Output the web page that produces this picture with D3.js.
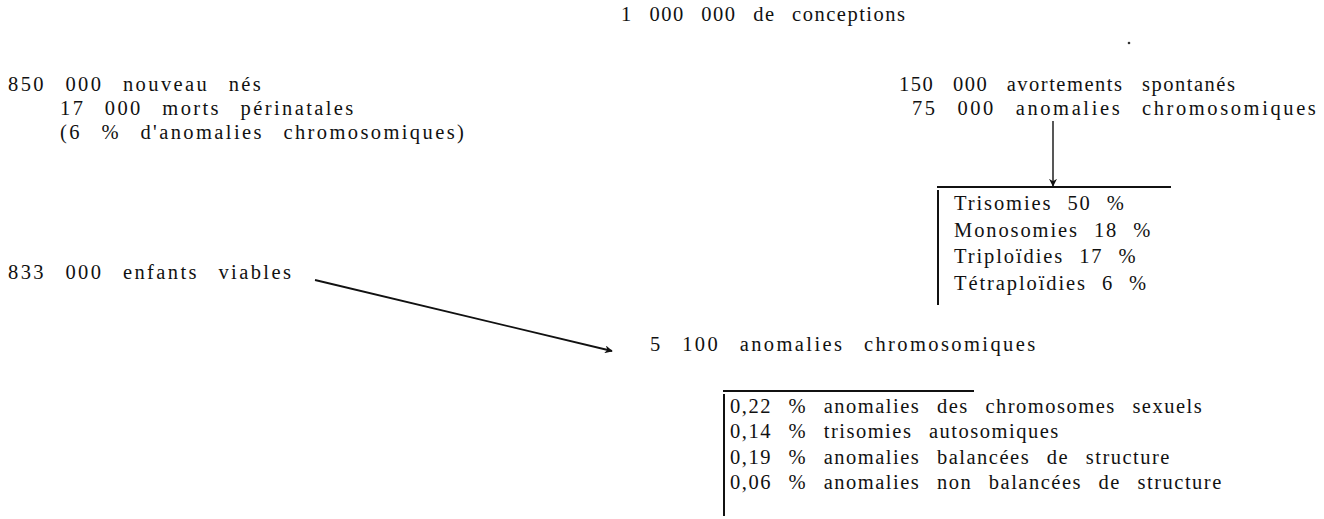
<!DOCTYPE html>
<html>
<head>
<meta charset="utf-8">
<script src="https://cdn.jsdelivr.net/npm/d3@7"></script>
<style>
  body { margin: 0; background: #fff; }
  text { font-family: "Liberation Serif", "DejaVu Serif", serif; font-size: 20.5px; fill: #111;
         letter-spacing: 2.4px; word-spacing: 12px; }
</style>
</head>
<body>
<script>
// data
var conceptions = "1 000 000 de conceptions";
var births = ["850 000 nouveau nés", "17 000 morts périnatales", "(6 % d'anomalies chromosomiques)"];
var abortions = ["150 000 avortements spontanés", "75 000 anomalies chromosomiques"];
var abortionTypes = ["Trisomies", "Monosomies", "Triploïdies", "Tétraploïdies"];
var abortionPct = [50, 18, 17, 6];
var viable = "833 000 enfants viables";
var liveAnomalies = "5 100 anomalies chromosomiques";
var livePct = ["0,22", "0,14", "0,19", "0,06"];
var liveTypes = ["anomalies des chromosomes sexuels", "trisomies autosomiques",
                 "anomalies balancées de structure", "anomalies non balancées de structure"];

var w = 1324, h = 519;
var lineH = 24;

var svg = d3.select("body").append("svg")
            .attr('width', w)
            .attr('height', h);

svg.append('defs').append('marker')
   .attr('id', 'arrow')
   .attr('viewBox', '0 0 10 10')
   .attr('refX', 9).attr('refY', 5)
   .attr('markerWidth', 8).attr('markerHeight', 8)
   .attr('markerUnits', 'userSpaceOnUse')
   .attr('orient', 'auto')
   .append('path')
   .attr('d', 'M0,0 L10,5 L0,10 L3,5 Z')
   .attr('fill', '#111');

// top
svg.append('text')
   .attr('x', 621).attr('y', 21)
   .style('letter-spacing', '1.5px').style('word-spacing', '10px')
   .text(conceptions);
svg.append('circle').attr('cx', 1129).attr('cy', 43).attr('r', 1.3).attr('fill', '#333');

// left column
svg.selectAll('.birth')
   .data(births)
   .enter()
   .append('text')
   .attr('class', 'birth')
   .attr('x', function(d, i) { return i == 0 ? 8 : 60; })
   .attr('y', function(d, i) { return 91 + i * lineH; })
   .text(function(d) { return d; });

svg.append('text')
   .attr('x', 8).attr('y', 279)
   .text(viable);

// right column
svg.selectAll('.abort')
   .data(abortions)
   .enter()
   .append('text')
   .attr('class', 'abort')
   .attr('x', function(d, i) { return i == 0 ? 899 : 912; })
   .attr('y', function(d, i) { return 91 + i * lineH; })
   .style('letter-spacing', function(d, i) { return i == 0 ? '1.5px' : '2.6px'; })
   .text(function(d) { return d; });

svg.append('line')
   .attr('x1', 1053).attr('y1', 121)
   .attr('x2', 1053).attr('y2', 186)
   .attr('stroke', '#111').attr('stroke-width', 1.4)
   .attr('marker-end', 'url(#arrow)');

// abortion box
var box1 = svg.append('g');
box1.append('line')
    .attr('x1', 937).attr('y1', 187).attr('x2', 1171).attr('y2', 187)
    .attr('stroke', '#111').attr('stroke-width', 2);
box1.append('line')
    .attr('x1', 938).attr('y1', 190).attr('x2', 938).attr('y2', 305)
    .attr('stroke', '#111').attr('stroke-width', 2);
box1.selectAll('text')
    .data(abortionTypes)
    .enter()
    .append('text')
    .attr('x', 954)
    .attr('y', function(d, i) { return 210 + i * 26.5; })
    .style('letter-spacing', '1.9px').style('word-spacing', '8px')
    .text(function(d, i) { return d + ' ' + abortionPct[i] + ' %'; });

// diagonal arrow
svg.append('line')
   .attr('x1', 315).attr('y1', 280)
   .attr('x2', 612).attr('y2', 351)
   .attr('stroke', '#111').attr('stroke-width', 1.8)
   .attr('marker-end', 'url(#arrow)');

svg.append('text')
   .attr('x', 650).attr('y', 351)
   .text(liveAnomalies);

// live-birth box
var box2 = svg.append('g');
box2.append('line')
    .attr('x1', 723).attr('y1', 391).attr('x2', 974).attr('y2', 391)
    .attr('stroke', '#111').attr('stroke-width', 2);
box2.append('line')
    .attr('x1', 724).attr('y1', 394).attr('x2', 724).attr('y2', 516)
    .attr('stroke', '#111').attr('stroke-width', 2);
box2.selectAll('text')
    .data(liveTypes)
    .enter()
    .append('text')
    .attr('x', 730)
    .attr('y', function(d, i) { return 413 + i * 25.3; })
    .style('letter-spacing', '1.5px').style('word-spacing', '10px')
    .text(function(d, i) { return livePct[i] + ' % ' + d; });
</script>
</body>
</html>
